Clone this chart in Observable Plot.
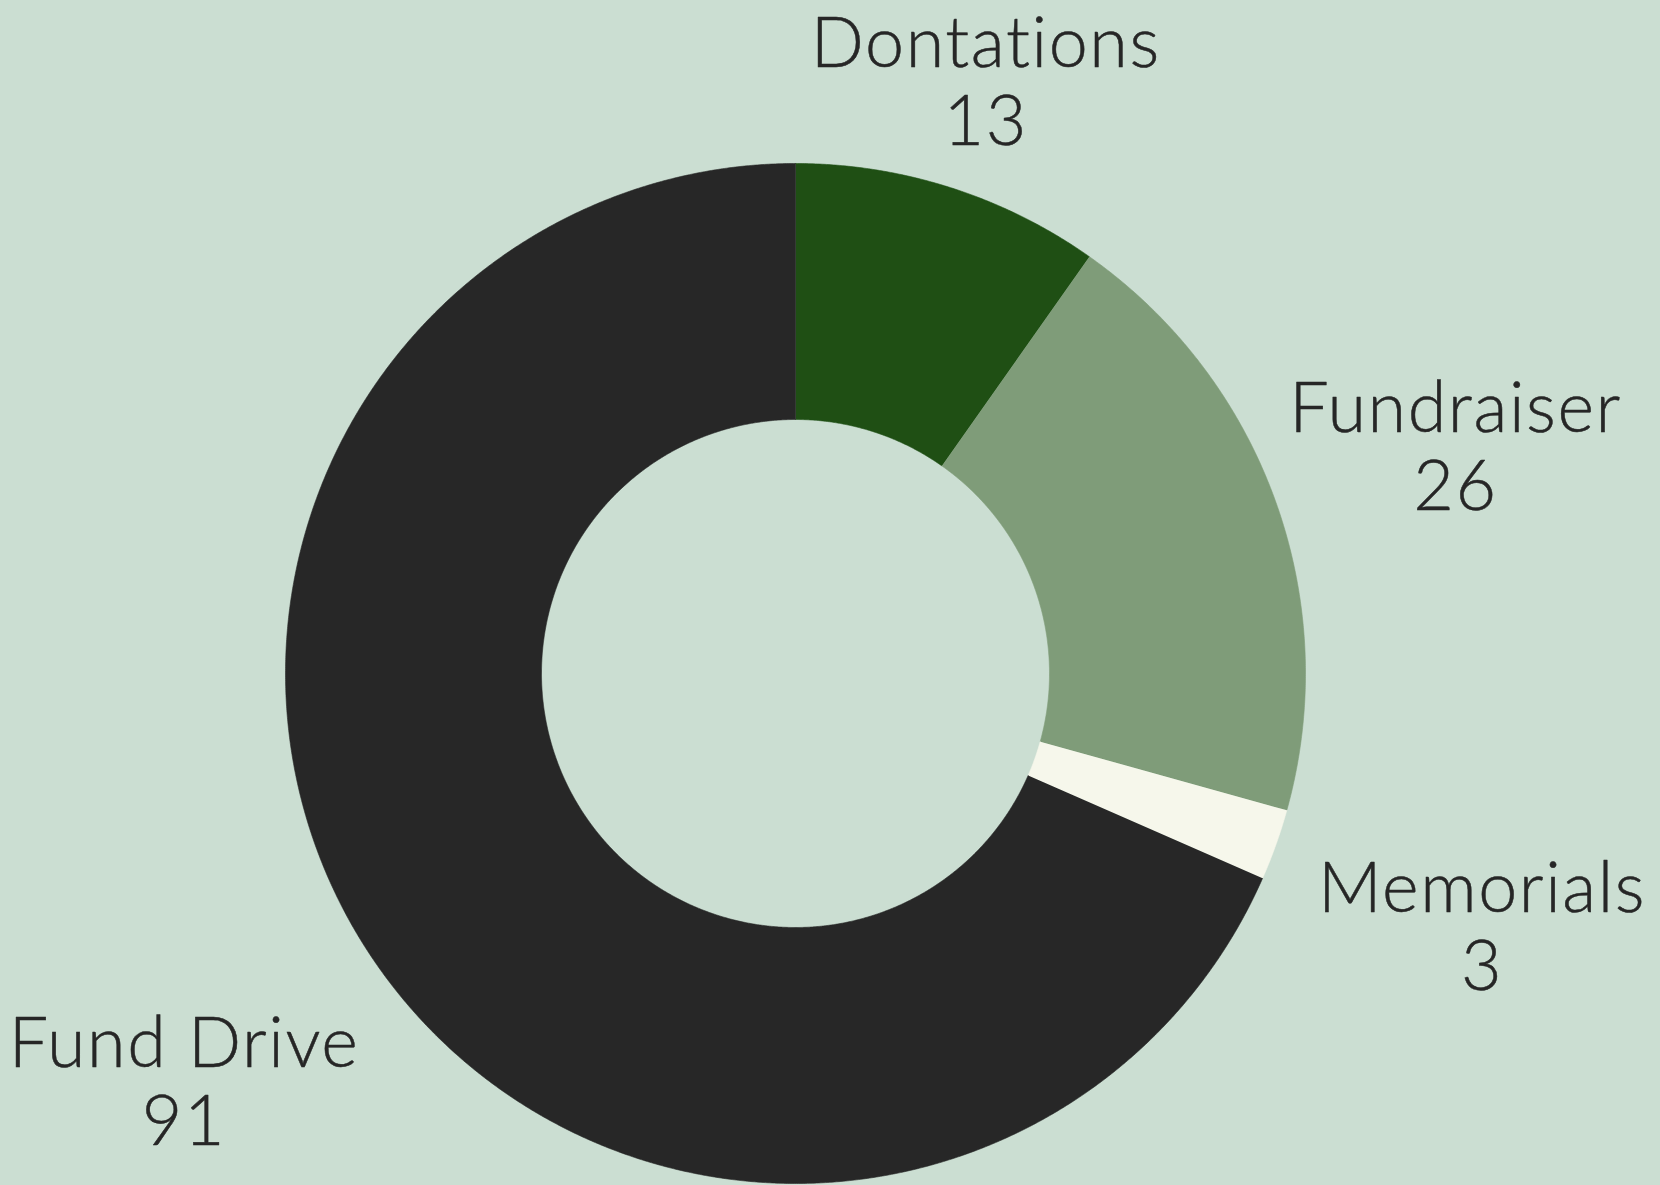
<!DOCTYPE html>
<html>
<head>
<meta charset="utf-8">
<script src="https://cdn.jsdelivr.net/npm/d3@7"></script>
<script src="https://cdn.jsdelivr.net/npm/@observablehq/plot@0.6"></script>
<style>
  html, body { margin: 0; padding: 0; background: #cbded2; }
  #chart { width: 1660px; height: 1185px; }
  #chart svg text { letter-spacing: 1.6px; font-variant-ligatures: none; font-kerning: normal; }
</style>
</head>
<body>
<div id="chart"></div>
<script>
// ---- data ----
const categories = ["Dontations", "Fundraiser", "Memorials", "Fund Drive"];
const values = [13, 26, 3, 91];
const colors = ["#1f4f14", "#7f9c79", "#f6f7eb", "#272727"];

// ---- layout ----
const W = 1660, H = 1185;
const cx = 795, cy = 673;          // centre in pixels
const rOuter = 510, rInner = 254;
const fontSize = 70, lineHeight = 1.114;
const fontFamily = "Lato, 'Open Sans', sans-serif";
const fontWeight = 300;
// label radius: base + widening toward the sides, a bit farther below the centre
const labelBase = 648, labelSide = 71, labelLower = 42, labelDrop = 8;

const total = d3.sum(values);
const slices = [];
let acc = 0;
categories.forEach((name, i) => {
  const a0 = acc / total * 2 * Math.PI;
  acc += values[i];
  const a1 = acc / total * 2 * Math.PI;
  slices.push({name, value: values[i], a0, a1});
});

// ring polygons (geometry derived from the values)
const pts = [];
const step = Math.PI / 720;
for (const s of slices) {
  const n = Math.max(2, Math.ceil((s.a1 - s.a0) / step));
  for (let k = 0; k <= n; k++) {
    const a = s.a0 + (s.a1 - s.a0) * k / n;
    pts.push({name: s.name, x: rOuter * Math.sin(a), y: rOuter * Math.cos(a)});
  }
  for (let k = n; k >= 0; k--) {
    const a = s.a0 + (s.a1 - s.a0) * k / n;
    pts.push({name: s.name, x: rInner * Math.sin(a), y: rInner * Math.cos(a)});
  }
}

// label positions at the slice mid-angle
const labelData = slices.map(s => {
  const m = (s.a0 + s.a1) / 2;
  const sx = Math.sin(m), sy = Math.cos(m);
  const R = labelBase + labelSide * Math.abs(sx) - labelLower * sy;
  return {text: `${s.name}\n${s.value}`, x: R * sx, y: R * sy - labelDrop};
});

const chart = Plot.plot({
  width: W,
  height: H,
  margin: 0,
  x: {domain: [-cx, W - cx], axis: null},
  y: {domain: [-(H - cy), cy], axis: null},
  color: {domain: categories, range: colors},
  style: {background: "#cbded2", overflow: "visible"},
  marks: [
    Plot.line(pts, {x: "x", y: "y", z: "name", fill: "name", stroke: "name", strokeWidth: 0.6, curve: "linear"}),
    Plot.text(labelData, {
      x: "x", y: "y", text: "text",
      fontSize, lineHeight, fontFamily, fontWeight,
      fill: "#262626", stroke: "#262626", strokeWidth: 0.5,
      textAnchor: "middle", lineAnchor: "middle"
    })
  ]
});
document.getElementById("chart").append(chart);
</script>
</body>
</html>
